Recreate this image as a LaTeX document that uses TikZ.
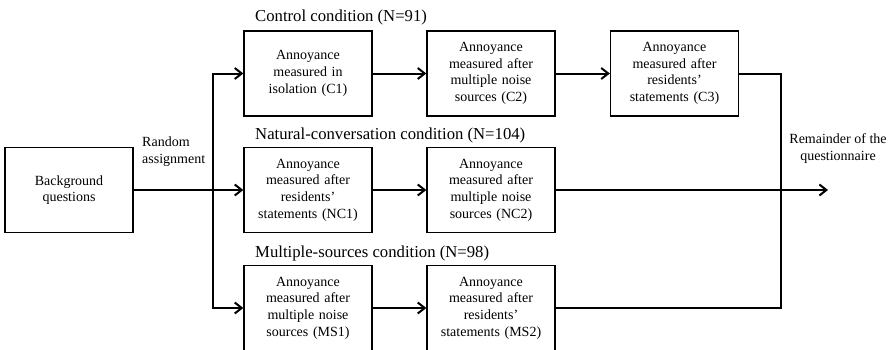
\documentclass[tikz,border=0pt]{standalone}
\usepackage{fontspec}
\setmainfont{Liberation Serif}
\usetikzlibrary{arrows.meta}

\tikzset{
  stagebox/.style={draw, line width=1.3pt, minimum width=128pt, minimum height=85pt,
    inner sep=0pt, align=center, text width=124pt,
    font=\fontsize{14}{16.7}\selectfont},
  flow/.style={line width=2pt},
  flowarrow/.style={flow, -{Straight Barb[length=7pt,width=11pt,line width=2pt]}},
  condlabel/.style={anchor=base west, inner sep=0pt, font=\fontsize{16.7}{20}\selectfont},
  sidelabel/.style={inner sep=0pt, font=\fontsize{14}{17}\selectfont}
}

\begin{document}
\begin{tikzpicture}[x=1pt, y=-1pt]
  \useasboundingbox (0,0) rectangle (889,349);
  \clip (0,0) rectangle (889,349);

  % starting point
  \node[stagebox] (bg) at (69,190) {Background\\questions};

  % control condition
  \node[condlabel] (lc) at (255,21) {Control condition (N=91)};
  \node[stagebox] (c1) at (308,73.5) {Annoyance\\measured in\\isolation (C1)};
  \node[stagebox] (c2) at (491,73.5) {Annoyance\\measured after\\multiple noise\\sources (C2)};
  \node[stagebox] (c3) at (674.5,73.5) {Annoyance\\measured after\\residents’\\statements (C3)};

  % natural-conversation condition
  \node[condlabel] (lnc) at (255,139) {Natural-conversation condition (N=104)};
  \node[stagebox] (nc1) at (308,190) {Annoyance\\measured after\\residents’\\statements (NC1)};
  \node[stagebox] (nc2) at (491,190) {Annoyance\\measured after\\multiple noise\\sources (NC2)};

  % multiple-sources condition
  \node[condlabel] (lms) at (255,257) {Multiple-sources condition (N=98)};
  \node[stagebox] (ms1) at (308,308) {Annoyance\\measured after\\multiple noise\\sources (MS1)};
  \node[stagebox] (ms2) at (491,308) {Annoyance\\measured after\\residents’\\statements (MS2)};

  % side texts
  \node[sidelabel, anchor=base west, align=left] (ra) at (142,163) {Random\\assignment};
  \node[sidelabel, anchor=base, align=center] (rq) at (838,160) {Remainder of the\\questionnaire};

  % junctions
  \coordinate (split) at (213,190);
  \coordinate (merge) at (781,190);
  \coordinate (out) at (828,190);

  % random assignment branches
  \draw[flowarrow] (bg.east) -- (nc1.west);
  \draw[flowarrow] (split) |- (c1.west);
  \draw[flowarrow] (split) |- (ms1.west);

  % within-condition sequences
  \draw[flowarrow] (c1) -- (c2);
  \draw[flowarrow] (c2) -- (c3);
  \draw[flowarrow] (nc1) -- (nc2);
  \draw[flowarrow] (ms1) -- (ms2);

  % merge into the rest of the questionnaire
  \draw[flow] (c3.east) -| (merge);
  \draw[flow] (ms2.east) -| (merge);
  \draw[flowarrow] (nc2.east) -- (out);
\end{tikzpicture}
\end{document}
